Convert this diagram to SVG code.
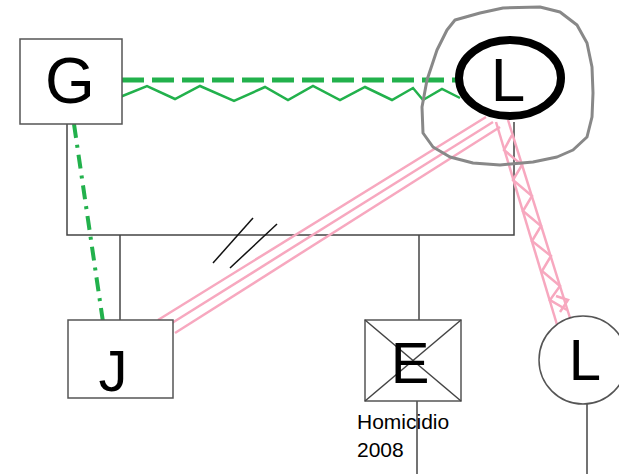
<svg xmlns="http://www.w3.org/2000/svg" width="619" height="474" viewBox="0 0 619 474">
<style>
.box{fill:#fff;stroke:#555;stroke-width:1.5}
.ln{fill:none;stroke:#444;stroke-width:1.5}
.lbl{font-family:"Liberation Sans",Arial,sans-serif;fill:#000;text-anchor:middle}
.pink{fill:none;stroke:#f7a8bf;stroke-width:2.5}
.green{fill:none;stroke:#22b14c}
</style>
<rect width="619" height="474" fill="#fff"/>
<g id="connectors">
<polyline class="ln" points="67,124 67,235 514,235 514,122"/>
<line class="ln" x1="120" y1="235" x2="120" y2="320"/>
<line class="ln" x1="419" y1="235" x2="419" y2="320"/>
<line class="ln" x1="417" y1="401" x2="417" y2="474"/>
<line class="ln" x1="587" y1="404" x2="587" y2="474"/>
<line class="green" stroke-width="5" stroke-dasharray="22,8" x1="122" y1="80" x2="458" y2="80"/>
<polyline class="green" stroke-width="2.5" points="120,97 147,86 175,99 200,86 234,101 265,87 288,100 313,86 340,100 365,87 392,100 413,88 423,100 442,89 460,98"/>
<line class="green" stroke-width="4" stroke-dasharray="14,7,3,7" x1="74" y1="124" x2="103" y2="322"/>
<line class="pink" x1="158" y1="320" x2="486" y2="117"/>
<line class="pink" x1="172" y1="323" x2="493" y2="122"/>
<line class="pink" x1="175" y1="333" x2="500" y2="127"/>
<line class="pink" x1="496" y1="122" x2="558" y2="328"/>
<line class="pink" x1="508" y1="120" x2="570" y2="318"/>
<polyline class="pink" points="512,135 504,150 522,165 513,180 532,196 523,211 541,226 532,241 551,256 542,271 560,286 550,300 567,310"/>
<polyline class="pink" points="556,296 568,300 560,312"/>
<line stroke="#111" stroke-width="1.5" x1="213" y1="263" x2="253" y2="218"/>
<line stroke="#111" stroke-width="1.5" x1="230" y1="268" x2="277" y2="224"/>
</g>
<g id="node-G">
<rect class="box" x="20" y="39" width="102" height="85"/>
<text class="lbl" x="70" y="103" font-size="64">G</text>
</g>
<g id="node-L-top">
<path d="M455,20 L480,13 L503,8 L540,7 L560,12 L577,25 L587,43 L592,67 L593,93 L592,117 L587,137 L573,150 L557,157 L533,162 L500,165 L473,163 L450,157 L433,147 L423,133 L422,107 L427,80 L437,50 L447,30 Z" fill="none" stroke="#888" stroke-width="3" stroke-linejoin="round"/>
<ellipse cx="510" cy="78" rx="51" ry="38" fill="#fff" stroke="#000" stroke-width="8"/>
<text class="lbl" x="508" y="101" font-size="62">L</text>
</g>
<g id="node-J">
<rect class="box" x="68" y="320" width="105" height="78"/>
<text class="lbl" x="113" y="391" font-size="58">J</text>
</g>
<g id="node-E">
<rect class="box" x="365" y="320" width="96" height="81"/>
<line class="ln" x1="365" y1="320" x2="461" y2="401" stroke-width="1"/>
<line class="ln" x1="461" y1="320" x2="365" y2="401" stroke-width="1"/>
<text class="lbl" x="410" y="383" font-size="58">E</text>
<text x="357" y="429" font-family="'Liberation Sans',Arial,sans-serif" font-size="21">Homicidio</text>
<text x="357" y="457" font-family="'Liberation Sans',Arial,sans-serif" font-size="21">2008</text>
</g>
<g id="node-L-bottom">
<circle cx="583" cy="360" r="44" fill="#fff" stroke="#555" stroke-width="1.5"/>
<text class="lbl" x="585" y="380" font-size="58">L</text>
</g>
</svg>
